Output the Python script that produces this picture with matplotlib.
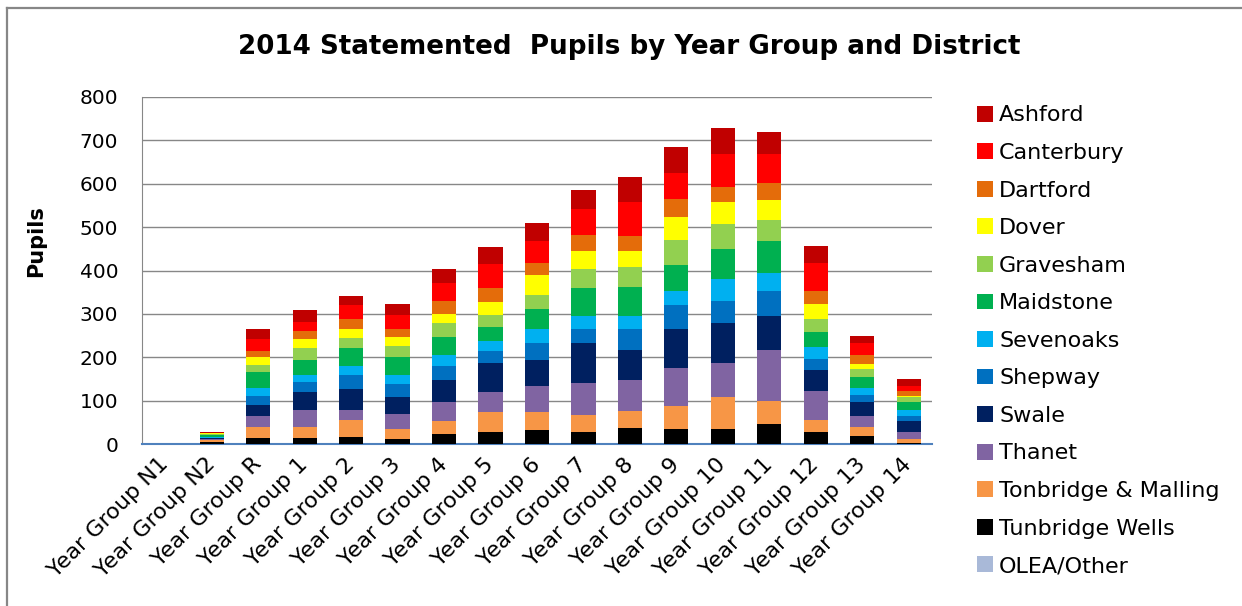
import matplotlib
matplotlib.use('Agg')
import matplotlib.pyplot as plt
from matplotlib.lines import Line2D
import numpy as np

plt.rcParams['font.family'] = ['DejaVu Sans']

year_groups = ['Year Group N1', 'Year Group N2', 'Year Group R'] + ['Year Group %d' % i for i in range(1, 15)]

# stacked bottom -> top
olea_other = [0, 0, 0, 0, 0, 0, 0, 0, 0, 0, 0, 0, 0, 0, 0, 0, 0]
tunbridge_wells = [0, 5, 15, 15, 17, 12, 24, 28, 33, 28, 38, 35, 35, 47, 28, 19, 3]
tonbridge_malling = [0, 6, 25, 25, 39, 23, 30, 46, 41, 39, 39, 53, 74, 53, 28, 21, 9]
thanet = [0, 1, 25, 39, 23, 35, 43, 46, 60, 74, 71, 88, 78, 117, 67, 25, 16]
swale = [0, 2, 25, 41, 48, 39, 51, 67, 60, 92, 69, 89, 92, 78, 48, 32, 26]
shepway = [0, 1, 21, 23, 33, 30, 32, 28, 39, 32, 48, 56, 51, 58, 25, 16, 11]
sevenoaks = [0, 2, 19, 17, 20, 21, 26, 23, 32, 30, 30, 32, 50, 41, 28, 17, 14]
maidstone = [0, 4, 36, 34, 42, 41, 41, 32, 46, 65, 67, 60, 69, 74, 34, 25, 18]
gravesham = [0, 3, 17, 28, 23, 25, 32, 28, 33, 43, 46, 57, 58, 48, 30, 18, 12]
dover = [0, 1, 18, 20, 20, 21, 21, 29, 46, 42, 37, 53, 51, 46, 35, 11, 2]
dartford = [0, 1, 14, 19, 23, 18, 30, 33, 27, 37, 34, 41, 34, 39, 30, 22, 12]
canterbury = [0, 1, 27, 20, 33, 33, 41, 55, 51, 59, 79, 60, 76, 67, 64, 27, 11]
ashford = [0, 1, 23, 28, 20, 25, 32, 39, 41, 44, 57, 60, 60, 51, 39, 16, 16]

series = [
    ('OLEA/Other', olea_other, '#A9B9D8'),
    ('Tunbridge Wells', tunbridge_wells, '#000000'),
    ('Tonbridge & Malling', tonbridge_malling, '#F79646'),
    ('Thanet', thanet, '#8064A2'),
    ('Swale', swale, '#002060'),
    ('Shepway', shepway, '#0070C0'),
    ('Sevenoaks', sevenoaks, '#00B0F0'),
    ('Maidstone', maidstone, '#00B050'),
    ('Gravesham', gravesham, '#92D050'),
    ('Dover', dover, '#FFFF00'),
    ('Dartford', dartford, '#E46C0A'),
    ('Canterbury', canterbury, '#FF0000'),
    ('Ashford', ashford, '#C00000'),
]

fig = plt.figure(figsize=(12.42, 6.06), dpi=100)
ax = fig.add_axes([0.1143, 0.2668, 0.6361, 0.5736])

x = np.arange(len(year_groups))
bottom = np.zeros(len(year_groups))
handles = []
for name, vals, col in series:
    b = ax.bar(x, vals, 0.52, bottom=bottom, color=col, label=name, zorder=3)
    handles.append(b)
    bottom += np.array(vals)

ax.set_xlim(-0.5, len(year_groups) - 0.5)
ax.set_ylim(0, 800)
ax.set_yticks(range(0, 801, 100))
ax.yaxis.grid(True, color='#878787', linewidth=1.0, zorder=0)
ax.set_axisbelow(True)
ax.tick_params(axis='y', length=0, labelsize=14.5, pad=17)
ax.tick_params(axis='x', length=0, labelsize=16, pad=12)
ax.set_xticks(x)
ax.set_xticklabels(year_groups, rotation=45, ha='right', va='center', rotation_mode='anchor')
for s in ['top', 'right']:
    ax.spines[s].set_visible(False)
ax.spines['left'].set_color('#878787')
ax.spines['bottom'].set_color('#4F81BD')
ax.spines['bottom'].set_linewidth(1.5)

ax.set_ylabel('Pupils', fontsize=15, fontweight='bold')
ax.yaxis.set_label_coords(-0.121, 0.585)
fig.text(0.507, 0.922, '2014 Statemented  Pupils by Year Group and District',
         ha='center', va='center', fontsize=18.8, fontweight='bold')

fig.legend(handles[::-1], [s[0] for s in series][::-1], loc='upper left',
           bbox_to_anchor=(0.7866, 0.826), frameon=False, fontsize=16,
           handlelength=0.72, handleheight=0.72, handletextpad=0.28,
           labelspacing=0.79, borderaxespad=0, borderpad=0)

# outer chart frame
fig.add_artist(Line2D([7 / 1242, 1], [1 - 8 / 606, 1 - 8 / 606], color='#878787', linewidth=1.6))
fig.add_artist(Line2D([7 / 1242, 7 / 1242], [0, 1 - 8 / 606], color='#878787', linewidth=1.6))

plt.savefig('out.png', dpi=100)
